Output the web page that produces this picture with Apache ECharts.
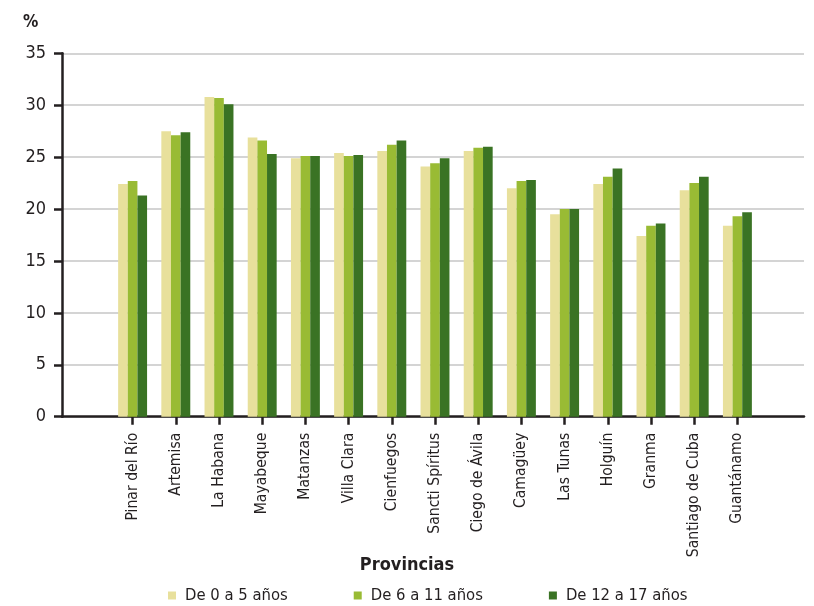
<!DOCTYPE html>
<html>
<head>
<meta charset="utf-8">
<script src="https://cdn.jsdelivr.net/npm/echarts@6/dist/echarts.min.js"></script>
<style>
html,body{margin:0;padding:0;background:#fff;}
#chart{width:814px;height:606px;}
</style>
</head>
<body>
<div id="chart"></div>
<script>
const categories = ['Pinar del Río','Artemisa','La Habana','Mayabeque','Matanzas','Villa Clara','Cienfuegos','Sancti Spíritus','Ciego de Ávila','Camagüey','Las Tunas','Holguín','Granma','Santiago de Cuba','Guantánamo'];
const seriesNames = ['De 0 a 5 años','De 6 a 11 años','De 12 a 17 años'];
const edad0a5   = [22.4, 27.5, 30.8, 26.9, 24.9, 25.4, 25.6, 24.1, 25.6, 22.0, 19.5, 22.4, 17.4, 21.8, 18.4];
const edad6a11  = [22.7, 27.1, 30.7, 26.6, 25.1, 25.1, 26.2, 24.4, 25.9, 22.7, 20.0, 23.1, 18.4, 22.5, 19.3];
const edad12a17 = [21.3, 27.4, 30.1, 25.3, 25.1, 25.2, 26.6, 24.9, 26.0, 22.8, 20.0, 23.9, 18.6, 23.1, 19.7];
const yTicks = {min: 0, max: 35, interval: 5};

const FONT = "'Liberation Sans Narrow','DejaVu Sans Condensed','Roboto',sans-serif";
const TXT = '#231f20';
const AX = '#231f20';
const colors = ['#e8e09c', '#99bb34', '#3a7324'];

const chart = echarts.init(document.getElementById('chart'), null, {renderer: 'canvas'});
const gridTop = 53.3, gridBottom = 189.3;
const option = {
  animation: false,
  color: colors,
  textStyle: {fontFamily: FONT, color: TXT},
  title: [
    {text: '%', left: 18, top: 9, textStyle: {fontFamily: FONT, fontSize: 17, fontWeight: 'bold', color: TXT}},
    {text: 'Provincias', left: 'center', top: 551, textStyle: {fontFamily: FONT, fontSize: 18, fontWeight: 'bold', color: TXT}}
  ],
  legend: {
    data: seriesNames, left: 163, top: 582, icon: 'rect', itemWidth: 8, itemHeight: 8, itemGap: 66,
    textStyle: {fontFamily: FONT, fontSize: 16.5, color: TXT, padding: [0, 0, 0, 4]}
  },
  grid: [
    {left: 62, right: 10, top: gridTop, bottom: gridBottom},
    {left: 111, right: 55, top: gridTop, bottom: gridBottom}
  ],
  xAxis: [
    {gridIndex: 0, type: 'value', min: 0, max: 1,
     axisLine: {show: true, onZero: false, lineStyle: {color: AX, width: 2.5}},
     axisTick: {show: false}, axisLabel: {show: false}, splitLine: {show: false}},
    {gridIndex: 1, type: 'category', data: categories,
     axisLine: {show: false},
     axisTick: {show: true, alignWithLabel: true, length: 8, lineStyle: {color: AX, width: 2.5}},
     axisLabel: {rotate: 90, margin: 16, interval: 0, fontFamily: FONT, fontSize: 15.6, color: TXT}}
  ],
  yAxis: [
    {gridIndex: 0, type: 'value', min: yTicks.min, max: yTicks.max, interval: yTicks.interval,
     axisLine: {show: true, lineStyle: {color: AX, width: 2.5}},
     axisTick: {show: true, length: 8, lineStyle: {color: AX, width: 2.5}},
     axisLabel: {margin: 16, fontFamily: FONT, fontSize: 18, color: TXT},
     splitLine: {show: true, lineStyle: {color: '#c6c6c6', width: 1.5}}},
    {gridIndex: 1, type: 'value', min: yTicks.min, max: yTicks.max, interval: yTicks.interval, show: false, splitLine: {show: false}}
  ],
  series: [
    {name: seriesNames[0], type: 'bar', xAxisIndex: 1, yAxisIndex: 1, data: edad0a5, barGap: '0%', barCategoryGap: '33%'},
    {name: seriesNames[1], type: 'bar', xAxisIndex: 1, yAxisIndex: 1, data: edad6a11, barGap: '0%', barCategoryGap: '33%'},
    {name: seriesNames[2], type: 'bar', xAxisIndex: 1, yAxisIndex: 1, data: edad12a17, barGap: '0%', barCategoryGap: '33%'}
  ]
};
chart.setOption(option);
</script>
</body>
</html>
